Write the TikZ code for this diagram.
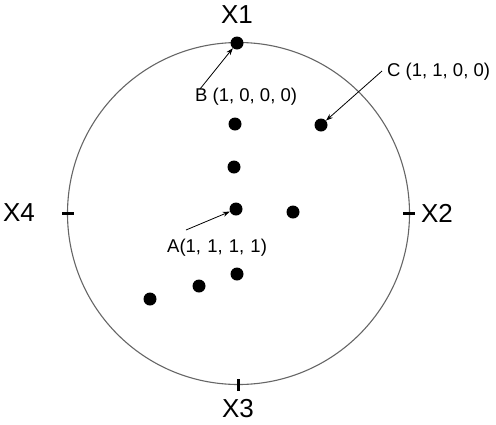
\documentclass[tikz,border=0pt]{standalone}
\usepackage{fontspec}
\setmainfont{Liberation Sans}
\usetikzlibrary{arrows.meta}
\begin{document}
\begin{tikzpicture}[x=1pt,y=-1pt,
  dot/.style={circle,fill=black,inner sep=0pt,minimum size=13pt},
  axislbl/.style={font=\fontsize{26}{28}\selectfont,inner sep=0pt},
  ptlbl/.style={font=\fontsize{18.5}{20}\selectfont,inner sep=0pt},
  tickmark/.style={line width=3pt},
  pointer/.style={line width=0.8pt,-{Stealth[length=7pt,width=5pt]}}]
\useasboundingbox (0,0) rectangle (496,424);
\draw[gray!80!black,line width=1.1pt] (238.5,213.5) circle[radius=171];
% ticks
\draw[tickmark] (62,213) -- (74,213);
\draw[tickmark] (403,213) -- (415,213);
\draw[tickmark] (238,379) -- (238,391);
% axis labels
\node[axislbl] (x1) at (237,15) {X1};
\node[axislbl] (x2) at (437,213) {X2};
\node[axislbl] (x3) at (238,409) {X3};
\node[axislbl] (x4) at (19,213) {X4};
% dots
\node[dot] (b) at (237,43) {};
\node[dot] (c) at (321,125) {};
\node[dot] (d1) at (235,124) {};
\node[dot] (d2) at (234,167) {};
\node[dot] (a) at (236,209) {};
\node[dot] (d3) at (293,212) {};
\node[dot] (d4) at (237,274) {};
\node[dot] (d5) at (199,286) {};
\node[dot] (d6) at (150,299) {};
% labels
\node[ptlbl,anchor=west] (bl) at (195,97) {B (1, 0, 0, 0)};
\node[ptlbl,anchor=west] (cl) at (387,72) {C (1, 1, 0, 0)};
\node[ptlbl,anchor=west] (al) at (167,248) {A(1,\,\,1,\,\,1,\,\,1)};
\coordinate (bs) at (200,89);
\coordinate (cs) at (382,71);
\coordinate (as) at (186,230);
\draw[pointer] (bs) -- (b);
\draw[pointer] (cs) -- (c);
\draw[pointer] (as) -- (a);
\end{tikzpicture}
\end{document}
